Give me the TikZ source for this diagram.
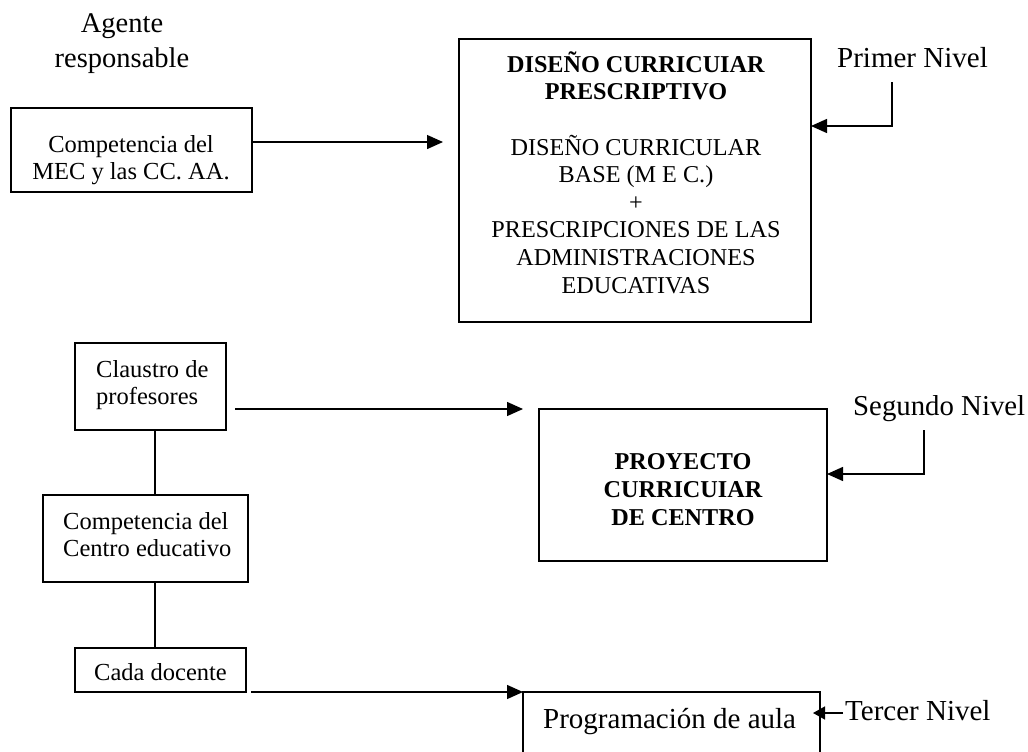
\documentclass[tikz,border=0pt]{standalone}
\usepackage{fontspec}
\setmainfont{Liberation Serif}
\usetikzlibrary{arrows.meta,calc}
\begin{document}
\begin{tikzpicture}[x=1pt,y=-1pt,
  bx/.style={draw, line width=1.4pt, inner sep=0pt, outer sep=0pt, anchor=north west},
  txt/.style={inner sep=0pt, font=\fontsize{24.5}{27}\selectfont},
  bigtxt/.style={inner sep=0pt, font=\fontsize{24.2}{27.6}\selectfont},
  lvl/.style={inner sep=0pt, anchor=base west, font=\fontsize{29}{33}\selectfont},
  ln/.style={line width=1.4pt},
  arr/.style={line width=1.4pt, -{Triangle[length=16pt,width=14pt]}},
  sarr/.style={line width=1.4pt, -{Triangle[length=12pt,width=13pt]}}]
\useasboundingbox (0,0) rectangle (1028,752);
\clip (0,0) rectangle (1028,752);
% boxes
\node[bx, minimum width=241, minimum height=84] (b1) at (11,108) {};
\node[bx, minimum width=352, minimum height=283] (big) at (459,39) {};
\node[bx, minimum width=151, minimum height=87] (cl) at (75,343) {};
\node[bx, minimum width=205, minimum height=87] (cc) at (43,495) {};
\node[bx, minimum width=171, minimum height=44] (cd) at (75,648) {};
\node[bx, minimum width=288, minimum height=152] (pr) at (539,409) {};
\node[bx, minimum width=297, minimum height=80] (pg) at (523,692) {};
% texts (anchor=base is the baseline of the last line)
\node[txt, align=center, anchor=base, font=\fontsize{28.5}{35}\selectfont] (ag) at (122,67) {Agente\\responsable};
\node[txt, align=center, anchor=base] (t1) at (131,179) {Competencia del\\MEC y las CC. AA.};
\node[bigtxt, align=center, anchor=base] (tbig) at (636,293)
  {\textbf{DISEÑO CURRICUIAR}\\\textbf{PRESCRIPTIVO}\\[27.6pt]DISEÑO CURRICULAR\\BASE (M E C.)\\+\\PRESCRIPCIONES DE LAS\\ADMINISTRACIONES\\EDUCATIVAS};
\node[lvl] (l1) at (837,67) {Primer Nivel};
\node[txt, align=left, anchor=base west] (tcl) at (96,404) {Claustro de\\profesores};
\node[txt, align=left, anchor=base west] (tcc) at (63,556) {Competencia del\\Centro educativo};
\node[txt, anchor=base] (tcd) at (160.5,680) {Cada docente};
\node[bigtxt, align=center, anchor=base, font=\fontsize{24.2}{28}\selectfont\bfseries] (tpr) at (683,525) {PROYECTO\\CURRICUIAR\\DE CENTRO};
\node[lvl, font=\fontsize{28.8}{33}\selectfont] (l2) at (853,415) {Segundo Nivel};
\node[lvl] (tpg) at (543,728) {Programación de aula};
\node[lvl] (l3) at (845,720) {Tercer Nivel};
% connectors
\draw[arr, shorten >=16pt] ($(b1.north east)!0.405!(b1.south east)$) coordinate (a1) -- (a1 -| big.west);
\draw[arr, shorten <=9pt, shorten >=16pt] (cl.east |- pr.north) -- (pr.north west);
\draw[ln] ($(cl.south)+(4.5,0)$) coordinate (v1) -- (v1 |- cc.north);
\draw[ln] ($(cc.south)+(9.5,0)$) coordinate (v2) -- (v2 |- cd.north);
\draw[arr, shorten <=5pt] (cd.south east) -- (pg.north west);
\coordinate (p1) at (892,82);
\draw[arr] (p1) -- ++(0,44) coordinate (p1b) -- (p1b -| big.east);
\coordinate (s1) at (924,430);
\draw[arr] (s1) -- ++(0,44) coordinate (s1b) -- (s1b -| pr.east);
\coordinate (q1) at (843,713);
\draw[sarr, shorten >=-7pt] (q1) -- (q1 -| pg.east);
\end{tikzpicture}
\end{document}
